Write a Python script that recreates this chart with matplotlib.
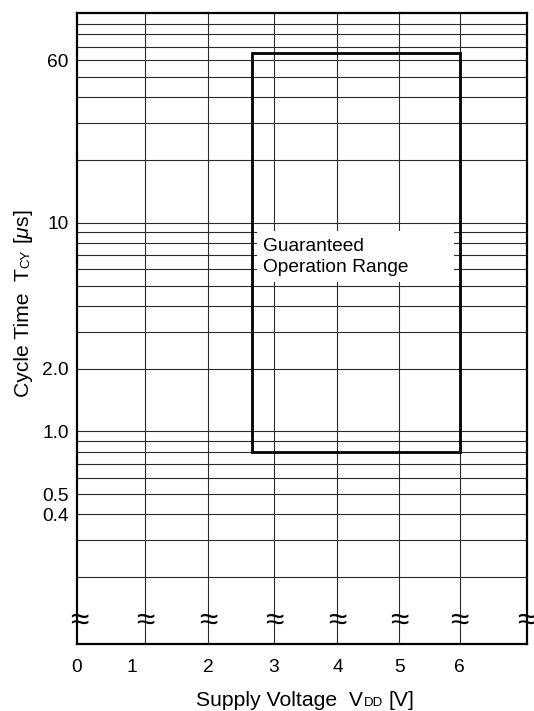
import matplotlib
matplotlib.use("Agg")
import matplotlib.pyplot as plt
from matplotlib.patches import Rectangle

plt.rcParams["font.family"] = ["Liberation Sans", "DejaVu Sans"]
plt.rcParams["mathtext.fontset"] = "custom"
plt.rcParams["mathtext.rm"] = "Liberation Sans"
plt.rcParams["mathtext.it"] = "Liberation Sans:italic"

# --- datos ---
v_grid = [1.03, 2.02, 3.05, 4.04, 5.01, 5.95]          # lineas verticales [V]
v_tick_pos = [-0.03, 0.82, 2.02, 3.04, 4.05, 5.01, 5.95]
v_tick_lab = ["0", "1", "2", "3", "4", "5", "6"]
t_grid = [0.2, 0.3, 0.4, 0.5, 0.6, 0.7, 0.8, 0.9,
          1, 2, 3, 4, 5, 6, 7, 8, 9,
          10, 20, 30, 40, 50, 60, 70, 80, 90]            # lineas horizontales [us]
t_tick_pos = [60, 10, 2, 1, 0.5, 0.4]
t_tick_lab = ["60", "10", "2.0", "1.0", "0.5", "0.4"]
break_pos = [0] + v_grid + [7]                          # marcas de corte

# rango garantizado
v_min, v_max = 2.7, 5.95
t_min, t_max = 0.8, 65

fig = plt.figure(figsize=(5.34, 7.11), dpi=100)
ax = fig.add_axes([0.1442, 0.0947, 0.8421, 0.8866])
ax.set_yscale("log")
ax.set_xlim(0, 7)
ax.set_ylim(0.096, 101)

for v in v_grid:
    ax.axvline(v, color="#2a2a2a", lw=0.8, zorder=1)
for t in t_grid:
    ax.axhline(t, color="#2a2a2a", lw=0.8, zorder=1)

ax.set_xticks(v_tick_pos, v_tick_lab)
ax.set_yticks(t_tick_pos, t_tick_lab)
ax.yaxis.set_minor_locator(matplotlib.ticker.NullLocator())
ax.tick_params(axis="both", length=0, labelsize=13.8)
ax.tick_params(axis="x", pad=11)
ax.tick_params(axis="y", pad=6)
for s in ax.spines.values():
    s.set_linewidth(1.6)
    s.set_zorder(4)

# rectangulo del rango de operacion
ax.add_patch(Rectangle((v_min, t_min), v_max - v_min, t_max - t_min,
                       fill=False, ec="black", lw=2.0, zorder=3))
ax.add_patch(Rectangle((2.79, 5.19), 5.87 - 2.79, 9.13 - 5.19,
                       fc="white", ec="none", zorder=2))
ax.text(2.87, 6.85, "Guaranteed\nOperation Range", fontsize=13.8,
        ha="left", va="center", linespacing=1.32, zorder=3)

for v in break_pos:
    ax.text(v, 0.1223, "\u2248", fontsize=24, ha="center", va="center",
            zorder=5)

# etiquetas compuestas (subindice en versalitas sobre la linea base)
fig.canvas.draw()
r = fig.canvas.get_renderer()


def etiqueta(piezas, x, y, rot):
    for txt, size, gap in piezas:
        t = fig.text(x, y, txt, fontsize=size, rotation=rot,
                     rotation_mode="anchor", ha="left", va="baseline",
                     transform=None)
        bb = t.get_window_extent(renderer=r)
        if rot == 90:
            y += bb.height + gap
        else:
            x += bb.width + gap


etiqueta([("Supply Voltage  V", 15.2, 0.5), ("DD", 9.5, 5.5), ("[V]", 15.2, 0)],
         196, 5, 0)
etiqueta([("Cycle Time  T", 15.2, 0.5), ("CY", 9.5, 5.5), ("[$\\mu$s]", 15.2, 0)],
         29, 314, 90)

fig.savefig("out.png", dpi=100)
